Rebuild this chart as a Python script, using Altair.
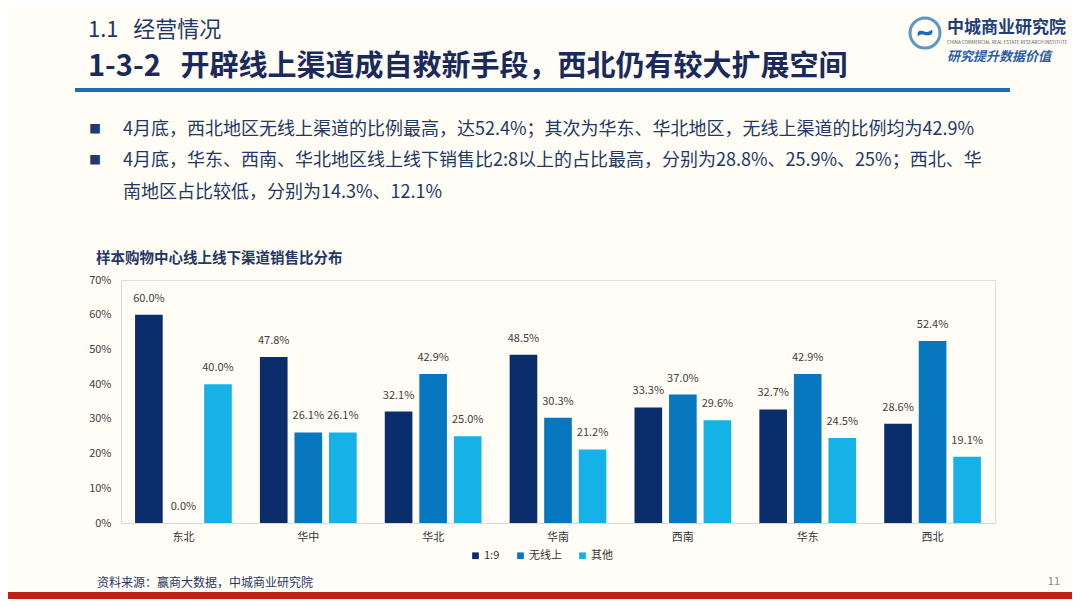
import altair as alt
import pandas as pd

# ---------------- data ----------------
regions = ["东北", "华中", "华北", "华南", "西南", "华东", "西北"]
series = ["1:9", "无线上", "其他"]
share_19 = [60.0, 47.8, 32.1, 48.5, 33.3, 32.7, 28.6]
share_none_online = [0.0, 26.1, 42.9, 30.3, 37.0, 42.9, 52.4]
share_other = [40.0, 26.1, 25.0, 21.2, 29.6, 24.5, 19.1]
y_ticks = [0, 10, 20, 30, 40, 50, 60, 70]
series_colors = ["#0B2D6B", "#0777C0", "#14B2E6"]

NB = "\u00a0"
section_title = "1.1" + NB * 3 + "经营情况"
main_title = "1-3-2" + NB * 3 + "开辟线上渠道成自救新手段，西北仍有较大扩展空间"
bullet_lines = [
    "4月底，西北地区无线上渠道的比例最高，达52.4%；其次为华东、华北地区，无线上渠道的比例均为42.9%",
    "4月底，华东、西南、华北地区线上线下销售比2:8以上的占比最高，分别为28.8%、25.9%、25%；西北、华",
    "南地区占比较低，分别为14.3%、12.1%",
]
chart_title = "样本购物中心线上线下渠道销售比分布"
source_text = "资料来源：赢商大数据，中城商业研究院"
page_no = "11"
logo_cn = "中城商业研究院"
logo_en = "CHINA COMMERCIAL REAL ESTATE RESEARCH INSTITUTE"
logo_slogan = "研究提升数据价值"

rows = []
for i, r in enumerate(regions):
    for s, vals in zip(series, [share_19, share_none_online, share_other]):
        rows.append({"region": r, "series": s, "value": vals[i]})
df = pd.DataFrame(rows)

FONT = "Noto Sans CJK SC"
NAVY = "#1F3864"
BG = "#FFFDF6"

# page coordinates of plot origin (page has 8px margin)
PX0, PY0 = 121, 280
W, H = 874, 243


def X(p):
    return p - PX0


def Y(p):
    return p - PY0


def txt(s, x, y, size, color, weight="normal", align="left", style="normal"):
    return alt.Chart(pd.DataFrame({"t": [s]})).mark_text(
        align=align, baseline="middle", fontSize=size, color=color,
        fontWeight=weight, font=FONT, fontStyle=style
    ).encode(x=alt.value(X(x)), y=alt.value(Y(y)), text="t:N")


def rect(x1, x2, y1, y2, color):
    return alt.Chart(pd.DataFrame({"a": [0]})).mark_rect(color=color).encode(
        x=alt.value(X(x1)), x2=alt.value(X(x2)), y=alt.value(Y(y1)), y2=alt.value(Y(y2))
    )


# ---------------- chart ----------------
x_enc = alt.X(
    "region:N", sort=regions,
    scale=alt.Scale(paddingInner=0.17, paddingOuter=0.085),
    axis=alt.Axis(title=None, labelAngle=0, ticks=False, domainColor="#D9D9D9",
                  labelFontSize=11, labelColor="#333333", labelPadding=8, labelFont=FONT),
)
xo_enc = alt.XOffset("series:N", sort=series,
                     scale=alt.Scale(paddingInner=0.2, paddingOuter=0.1))
y_enc = alt.Y(
    "value:Q", scale=alt.Scale(domain=[0, 70], nice=False),
    axis=alt.Axis(values=y_ticks, title=None, grid=False, ticks=False,
                  labelExpr="datum.value + '%'", domainColor="#D9D9D9",
                  labelFontSize=11, labelColor="#404040", labelPadding=10, labelFont=FONT),
)
color_enc = alt.Color(
    "series:N", sort=series,
    scale=alt.Scale(domain=series, range=series_colors),
    legend=alt.Legend(title=None, orient="none", direction="horizontal",
                      legendX=X(470), legendY=Y(550), symbolType="square",
                      symbolSize=45, symbolStrokeWidth=0, labelFontSize=11,
                      labelFont=FONT, labelColor="#333333", columnPadding=15,
                      labelOffset=3),
)

bars = alt.Chart(df).mark_bar().encode(x=x_enc, xOffset=xo_enc, y=y_enc, color=color_enc)

labels = alt.Chart(df).transform_calculate(
    lbl="format(datum.value, '.1f') + '%'"
).mark_text(baseline="middle", dy=-16, fontSize=11, color="#404040", font=FONT).encode(
    x=x_enc, xOffset=xo_enc, y=y_enc, text="lbl:N"
)

decor = [
    # section / main title
    txt(section_title, 88, 30, 22, NAVY),
    txt(main_title, 88, 67, 29, "#1A2A5A", weight="bold"),
    rect(75, 1010, 88, 92, "#1D6FB5"),
    # logo
    alt.Chart(pd.DataFrame({"a": [0]})).mark_point(
        shape="circle", size=900, filled=False, color="#1B6CB0", strokeWidth=3
    ).encode(x=alt.value(X(925)), y=alt.value(Y(33))),
    alt.Chart(pd.DataFrame({"a": [0]})).mark_point(
        shape="M -0.75 -0.05 C -0.35 -0.55 0.05 0.25 0.75 -0.35 L 0.75 0.05 C 0.2 0.55 -0.25 -0.15 -0.75 0.35 Z",
        size=380, filled=True, color="#1B6CB0", opacity=1
    ).encode(x=alt.value(X(925)), y=alt.value(Y(33))),
    txt(logo_cn, 947, 28, 17, "#1F3F7A", weight="bold"),
    txt(logo_en, 947, 43, 4.6, "#555555"),
    txt(logo_slogan, 947, 57, 13, "#2A5CAA", weight="bold", style="italic"),
    # bullets
    txt("■", 95, 130, 12, "#1F3A6E", align="center"),
    txt(bullet_lines[0], 123, 130, 18, NAVY),
    txt("■", 95, 161, 12, "#1F3A6E", align="center"),
    txt(bullet_lines[1], 123, 161, 18, NAVY),
    txt(bullet_lines[2], 123, 193, 18, NAVY),
    # chart title
    txt(chart_title, 96, 259, 14.5, NAVY, weight="bold"),
    # footer
    txt(source_text, 97, 583, 12, NAVY),
    txt(page_no, 1060, 582, 11, "#888888", align="right"),
    rect(8, 1072, 592, 599, "#C21F16"),
]

chart = alt.layer(bars, labels, *decor).properties(
    width=W, height=H,
    padding={"left": 113, "top": 272, "right": 77, "bottom": 76},
    autosize=alt.AutoSizeParams(type="none"),
).configure_view(stroke=None).configure(background=BG)

chart.save("out.html", embed_options={"renderer": "svg", "actions": False})
